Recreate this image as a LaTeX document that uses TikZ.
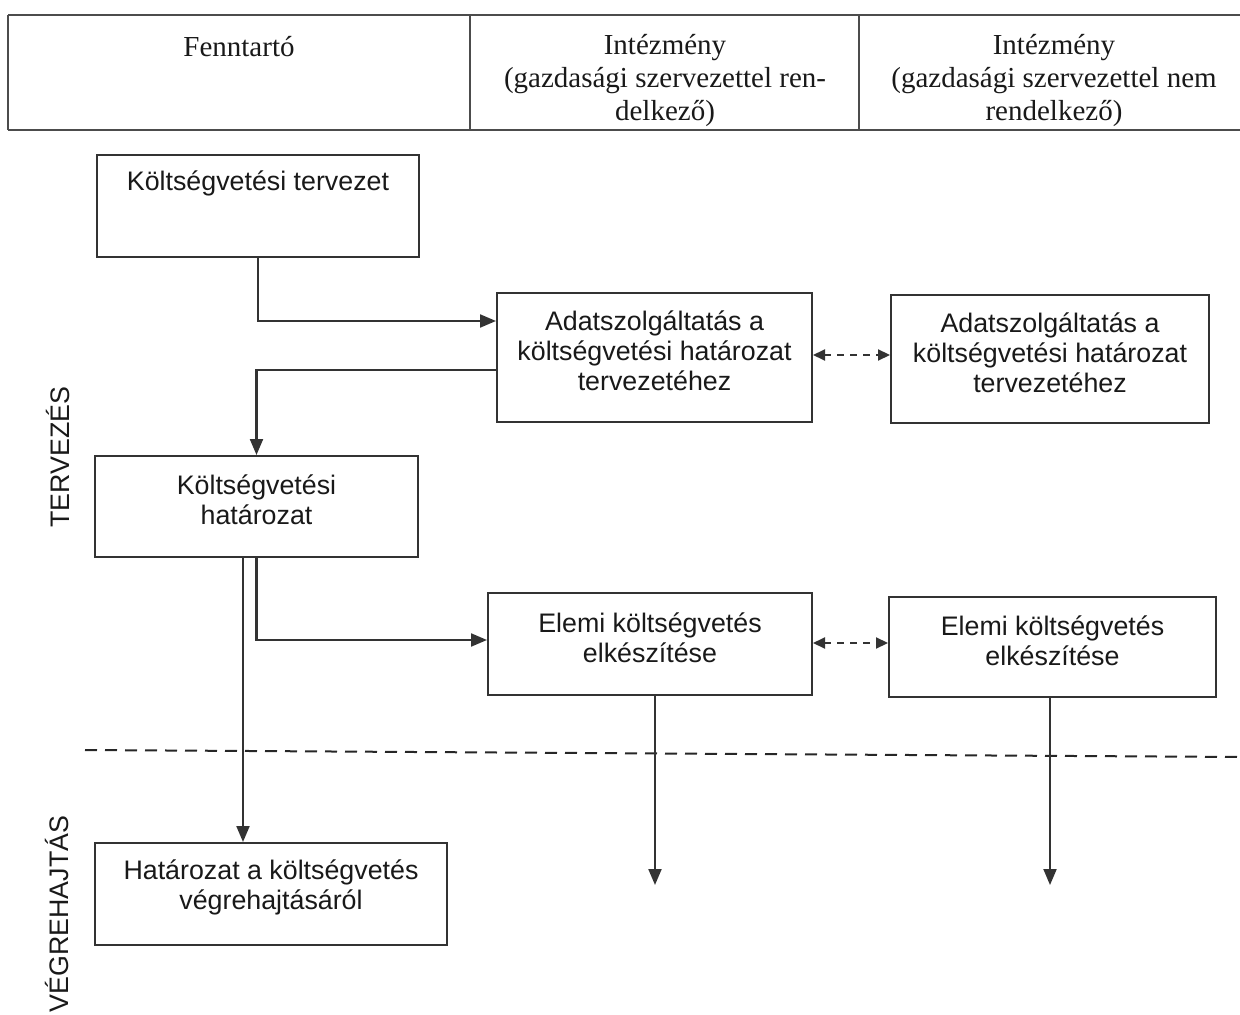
\documentclass[tikz,border=0pt]{standalone}
\usepackage{fontspec}
\setmainfont{Liberation Serif}
\setsansfont{Liberation Sans}
\usetikzlibrary{arrows.meta}
\tikzset{
  box/.style={draw=black!80, line width=1pt, rectangle, inner sep=0pt},
  boxtext/.style={font=\sffamily\fontsize{13.4}{15}\selectfont, align=center, text=black!90, inner sep=0pt},
  head/.style={font=\rmfamily\fontsize{14.5}{16.5}\selectfont, align=center, text=black!90, inner sep=0pt},
  side/.style={font=\sffamily\fontsize{13.4}{15}\selectfont, rotate=90, text=black!90, inner sep=0pt},
  tline/.style={draw=black!70, line width=1pt},
  conn/.style={draw=black!80, line width=1.05pt, -{Triangle[length=8pt,width=6.5pt]}},
  dconn/.style={draw=black!80, line width=1.05pt, dash pattern=on 3.5pt off 3pt,
    {Triangle[length=6pt,width=5.5pt]}-{Triangle[length=6pt,width=5.5pt]}},
  sep/.style={draw=black!85, line width=1pt, dash pattern=on 6pt off 4pt}
}
\begin{document}
\begin{tikzpicture}[x=0.5pt,y=-0.5pt]
\useasboundingbox (0,0) rectangle (1240,1015);
% header table
\draw[tline] (8,15) -- (1240,15);
\draw[tline] (8,130) -- (1240,130);
\draw[tline] (8,15) -- (8,130);
\draw[tline] (470,15) -- (470,130);
\draw[tline] (859,15) -- (859,130);
\node[head] (h1) at (239,47) {Fenntartó};
\node[head] (h2) at (665,81) {Intézmény\\(gazdasági szervezettel ren-\\delkező)};
\node[head] (h3) at (1054,81) {Intézmény\\(gazdasági szervezettel nem\\rendelkező)};
% side labels
\node[side] (lt) at (58,457) {TERVEZÉS};
\node[side] (lv) at (57,914) {VÉGREHAJTÁS};
% boxes
\node[box, minimum width=161pt, minimum height=51pt] (b1) at (258,206) {};
\node[boxtext] (t1) at (258,183) {Költségvetési tervezet};
\node[box, minimum width=157.5pt, minimum height=64.5pt] (b2) at (654.5,357.5) {};
\node[boxtext] (t2) at ([yshift=3.3pt]b2.center) {Adatszolgáltatás a\\költségvetési határozat\\tervezetéhez};
\node[box, minimum width=159pt, minimum height=64pt] (b3) at (1050,359) {};
\node[boxtext] (t3) at ([yshift=3.3pt]b3.center) {Adatszolgáltatás a\\költségvetési határozat\\tervezetéhez};
\node[box, minimum width=161.5pt, minimum height=50.5pt] (b4) at (256.5,506.5) {};
\node[boxtext] (t4) at ([yshift=3.3pt]b4.center) {Költségvetési\\határozat};
\node[box, minimum width=162pt, minimum height=51pt] (b5) at (650,644) {};
\node[boxtext] (t5) at ([yshift=3.3pt]b5.center) {Elemi költségvetés\\elkészítése};
\node[box, minimum width=163.5pt, minimum height=50pt] (b6) at (1052.5,647) {};
\node[boxtext] (t6) at ([yshift=3.3pt]b6.center) {Elemi költségvetés\\elkészítése};
\node[box, minimum width=176pt, minimum height=51pt] (b7) at (271,894) {};
\node[boxtext] (t7) at ([yshift=3.3pt]b7.center) {Határozat a költségvetés\\végrehajtásáról};
% separator
\coordinate (sl) at (85,750);
\coordinate (sr) at (1240,757);
\draw[sep] (sl) -- (sr);
% connectors
\draw[conn] (b1.south) |- (b2.west |- 0,321);
\draw[conn] (b2.west |- 0,370) -| (b4.north);
\draw[dconn] (b2.east |- 0,355) -- (b3.west |- 0,355);
\draw[conn] (b4.south) |- (b5.west |- 0,640);
\draw[conn] (243,0 |- b4.south) -- (243,0 |- b7.north);
\draw[dconn] (b5.east |- 0,643) -- (b6.west |- 0,643);
\coordinate (e5) at (655,885);
\coordinate (e6) at (1050,885);
\draw[conn] (655,0 |- b5.south) -- (e5);
\draw[conn] (1050,0 |- b6.south) -- (e6);
\end{tikzpicture}
\end{document}
